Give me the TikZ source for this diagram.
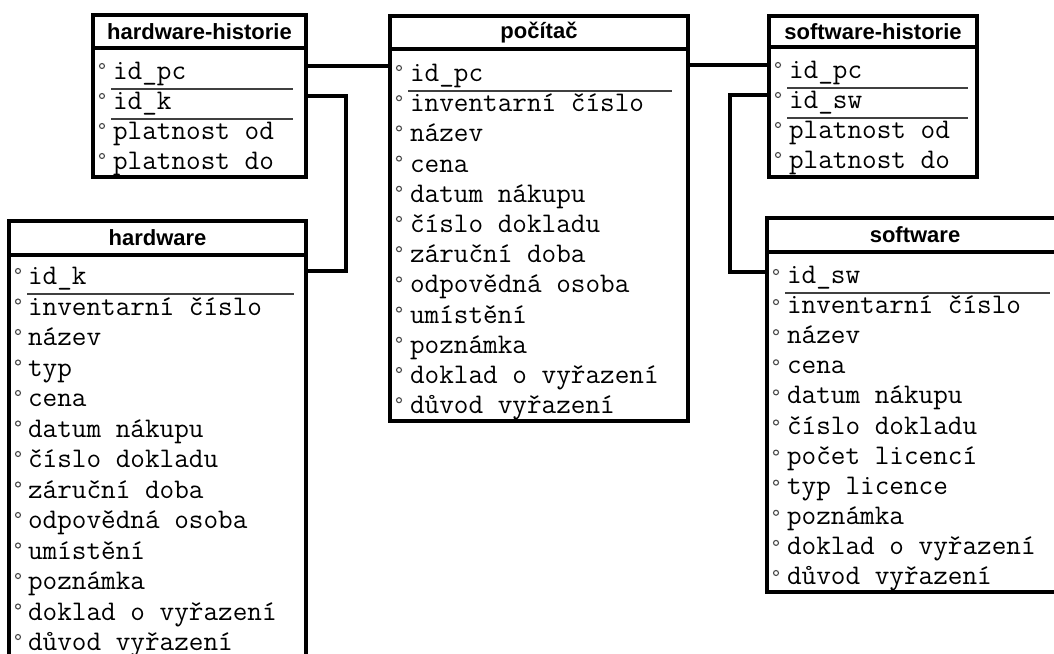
\documentclass[tikz,border=0pt]{standalone}
\usepackage{fontspec}
\setmainfont{Liberation Sans}
\usetikzlibrary{positioning}

\begin{document}
\begin{tikzpicture}[x=1pt,y=-1pt]
  \tikzstyle{every node}=[inner sep=0pt,outer sep=0pt]
  \tikzstyle{box}=[draw,line width=3.2pt,rectangle,anchor=north west]
  \tikzstyle{head}=[box,font=\fontsize{22}{22}\selectfont\bfseries]
  \tikzstyle{col}=[anchor=base west,font=\fontsize{28.4}{29}\selectfont\ttfamily]
  \tikzstyle{dot}=[draw=gray!60!black,line width=1.1pt]
  \tikzstyle{key}=[draw=gray!50!black,line width=1.4pt]
  \tikzstyle{link}=[draw,line width=3.2pt]

  \useasboundingbox (0,0) rectangle (1054,653);
  \clip (0,0) rectangle (1054,653);
  \fill[white] (0,0) rectangle (1054,653);

  % hardware-historie
  \node[head,minimum width=213pt,minimum height=33pt] (hhT) at (93,15) {hardware-historie};
  \node[box,minimum width=213pt,minimum height=129pt] (hh) at (93,48) {};
  \foreach \i/\attr in {0/id\_pc,1/id\_k,2/platnost od,3/platnost do}{
    \node[col] (hh\i) at (113,79.5+30*\i) {\attr};
    \coordinate (hhd\i) at (102,66+30*\i);
    \draw[dot] (hhd\i) circle (2.5pt);
  }
  \draw[key] (111,89) -- (293,89);
  \draw[key] (111,119) -- (293,119);

  % pocitac
  \node[head,minimum width=298pt,minimum height=33pt] (PT) at (390,16) {počítač};
  \node[box,minimum width=298pt,minimum height=372pt] (P) at (390,49) {};
  \foreach \i/\attr in {0/id\_pc,1/inventarní číslo,2/název,3/cena,4/datum nákupu,
      5/číslo dokladu,6/záruční doba,7/odpovědná osoba,8/umístění,9/poznámka,
      10/doklad o vyřazení,11/důvod vyřazení}{
    \node[col] (P\i) at (410,81.5+30.2*\i) {\attr};
    \coordinate (Pd\i) at (399,68+30.2*\i);
    \draw[dot] (Pd\i) circle (2.5pt);
  }
  \draw[key] (408,91) -- (672,91);

  % software-historie
  \node[head,minimum width=208pt,minimum height=31pt] (shT) at (769,16) {software-historie};
  \node[box,minimum width=208pt,minimum height=130pt] (sh) at (769,47) {};
  \foreach \i/\attr in {0/id\_pc,1/id\_sw,2/platnost od,3/platnost do}{
    \node[col] (sh\i) at (789,78.5+30*\i) {\attr};
    \coordinate (shd\i) at (778,65+30*\i);
    \draw[dot] (shd\i) circle (2.5pt);
  }
  \draw[key] (787,88) -- (968,88);
  \draw[key] (787,118) -- (968,118);

  % hardware
  \node[head,minimum width=297pt,minimum height=34pt] (hwT) at (9,221) {hardware};
  \node[box,minimum width=297pt,minimum height=445pt] (hw) at (9,255) {};
  \foreach \i/\attr in {0/id\_k,1/inventarní číslo,2/název,3/typ,4/cena,5/datum nákupu,
      6/číslo dokladu,7/záruční doba,8/odpovědná osoba,9/umístění,10/poznámka,
      11/doklad o vyřazení,12/důvod vyřazení}{
    \node[col] (hw\i) at (28,284.5+30.5*\i) {\attr};
    \coordinate (hwd\i) at (18,271+30.5*\i);
    \draw[dot] (hwd\i) circle (2.5pt);
  }
  \draw[key] (27,294) -- (294,294);

  % software
  \node[head,minimum width=296pt,minimum height=34pt] (swT) at (767,218) {software};
  \node[box,minimum width=296pt,minimum height=340pt] (sw) at (767,252) {};
  \foreach \i/\attr in {0/id\_sw,1/inventarní číslo,2/název,3/cena,4/datum nákupu,
      5/číslo dokladu,6/počet licencí,7/typ licence,8/poznámka,
      9/doklad o vyřazení,10/důvod vyřazení}{
    \node[col] (sw\i) at (787,283.5+30.1*\i) {\attr};
    \coordinate (swd\i) at (776,272+30.1*\i);
    \draw[dot] (swd\i) circle (2.5pt);
  }
  \draw[key] (785,293) -- (1050,293);

  % vazby
  \draw[link] (hh.east |- hhd0) -- (P.west |- hhd0);
  \draw[link] (hh.east |- hhd1) -- ++(40,0) |- (hw.east |- hwd0);
  \draw[link] (P.east |- shd0) -- (sh.west |- shd0);
  \draw[link] (sh.west |- shd1) -- ++(-39,0) |- (sw.west |- swd0);
\end{tikzpicture}
\end{document}
